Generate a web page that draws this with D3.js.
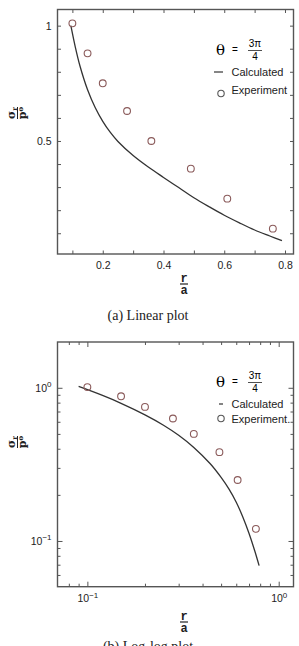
<!DOCTYPE html>
<html>
<head>
<meta charset="utf-8">
<script src="https://cdn.jsdelivr.net/npm/d3@7"></script>
<style>
  body { margin: 0; background: #fff; }
  svg { display: block; }
  .tick text { font-family: "Liberation Sans", Arial, sans-serif; font-size: 10.5px; fill: #222; }
  .domain { display: none; }
  .tick line { stroke: #555; stroke-width: 1; }
</style>
</head>
<body>
<script>
const width = 299;
const height = 646;

// experiment points (same in both plots)
const expX = [0.1, 0.15, 0.2, 0.28, 0.36, 0.49, 0.61, 0.76];
const expY = [1.01, 0.88, 0.75, 0.63, 0.5, 0.38, 0.25, 0.12];

// calculated curve
const calcLinX = [0.095, 0.11, 0.125, 0.15, 0.175, 0.2, 0.225, 0.25, 0.3, 0.35, 0.4, 0.45, 0.5, 0.55, 0.6, 0.65, 0.7, 0.75, 0.79];
const calcLinY = [1.0, 0.905, 0.825, 0.722, 0.645, 0.585, 0.537, 0.498, 0.437, 0.387, 0.342, 0.298, 0.254, 0.215, 0.178, 0.145, 0.114, 0.088, 0.068];

// calculated curve
const calcLogX = [0.09, 0.12, 0.15, 0.2, 0.25, 0.3, 0.36, 0.44, 0.5, 0.55, 0.6, 0.65, 0.7, 0.75, 0.79];
const calcLogY = [1.02, 0.891, 0.792, 0.666, 0.57, 0.49, 0.408, 0.318, 0.26, 0.218, 0.179, 0.143, 0.112, 0.086, 0.069];

// ticks
const linXMajor = [0.2, 0.4, 0.6, 0.8];
const linXMinor = [0.1, 0.3, 0.5, 0.7];
const linYTicks = [0.1, 0.2, 0.3, 0.4, 0.5, 0.6, 0.7, 0.8, 0.9, 1.0];
const linYLabels = ["0.5", "1"];
const logXMajor = [0.1, 1];
const logXMinor = [0.08, 0.09, 0.2, 0.3, 0.4, 0.5, 0.6, 0.7, 0.8, 0.9];
const logYMajor = [0.1, 1];
const logYMinor = [0.06, 0.07, 0.08, 0.09, 0.2, 0.3, 0.4, 0.5, 0.6, 0.7, 0.8, 0.9];

const svg = d3.select("body").append("svg")
    .attr("width", width)
    .attr("height", height);

const left = 57.5, right = 293.5;
const sans = "Liberation Sans, Arial, sans-serif";

function frame(top, bottom) {
    svg.append("rect")
        .attr("x", left).attr("y", top)
        .attr("width", right - left).attr("height", bottom - top)
        .attr("fill", "none").attr("stroke", "#555").attr("stroke-width", 1.4);
}

// ticks on all four sides, pointing inward; labels on bottom and left only
function axes(x, y, top, bottom, xTicks, yTicks, size, xFmt, yFmt) {
    const bx = svg.append("g").attr("transform", `translate(0,${bottom})`)
        .call(d3.axisBottom(x).tickValues(xTicks).tickSize(-size).tickPadding(8)
            .tickFormat(xFmt || (() => "")));
    svg.append("g").attr("transform", `translate(0,${top})`)
        .call(d3.axisTop(x).tickValues(xTicks).tickSize(-size).tickFormat(() => ""));
    const ly = svg.append("g").attr("transform", `translate(${left},0)`)
        .call(d3.axisLeft(y).tickValues(yTicks).tickSize(-size).tickPadding(6)
            .tickFormat(yFmt || (() => "")));
    svg.append("g").attr("transform", `translate(${right},0)`)
        .call(d3.axisRight(y).tickValues(yTicks).tickSize(-size).tickFormat(() => ""));
    return [bx, ly];
}

function plotData(x, y, cx, cy) {
    const line = d3.line().x((d, i) => x(cx[i])).y((d, i) => y(cy[i])).curve(d3.curveCatmullRom);
    svg.append("path").datum(cx)
        .attr("d", line)
        .attr("fill", "none").attr("stroke", "#333").attr("stroke-width", 1.3);
    svg.append("g").selectAll("circle")
        .data(expX)
        .join("circle")
        .attr("cx", d => x(d))
        .attr("cy", (d, i) => y(expY[i]))
        .attr("r", 3.4)
        .attr("fill", "none").attr("stroke", "#8a5a5a").attr("stroke-width", 1.1);
}

function legend(top, dashLen) {
    const g = svg.append("g").attr("transform", `translate(0,${top})`);
    g.append("text").attr("x", 216).attr("y", 5)
        .attr("font-family", "DejaVu Serif, serif").attr("font-size", 15).text("θ");
    g.append("text").attr("x", 232).attr("y", 3)
        .attr("font-family", sans).attr("font-size", 10).text("=");
    g.append("text").attr("x", 255).attr("y", -3).attr("text-anchor", "middle")
        .attr("font-family", sans).attr("font-size", 10).text("3π");
    g.append("line").attr("x1", 248).attr("x2", 262).attr("y1", 0.5).attr("y2", 0.5)
        .attr("stroke", "#222").attr("stroke-width", 0.8);
    g.append("text").attr("x", 255).attr("y", 10).attr("text-anchor", "middle")
        .attr("font-family", sans).attr("font-size", 10).text("4");
    g.append("line").attr("x1", 223 - dashLen).attr("x2", 223).attr("y1", 22).attr("y2", 22)
        .attr("stroke", "#333").attr("stroke-width", 1.2);
    g.append("text").attr("x", 231.5).attr("y", 26)
        .attr("font-family", sans).attr("font-size", 11).attr("fill", "#222").text("Calculated");
    return g;
}

function yLabel(cx, cy) {
    const g = svg.append("g").attr("transform", `translate(${cx},${cy}) rotate(-90)`)
        .attr("font-family", "DejaVu Serif, serif").attr("font-weight", "bold").attr("fill", "#222");
    const n = g.append("text").attr("x", 0).attr("y", -2.5).attr("text-anchor", "middle").attr("font-size", 11);
    n.append("tspan").text("σ");
    n.append("tspan").attr("font-size", 7).attr("dy", 1.5).text("r");
    g.append("line").attr("x1", -6).attr("x2", 6).attr("y1", 0).attr("y2", 0)
        .attr("stroke", "#222").attr("stroke-width", 1);
    const d = g.append("text").attr("x", 0).attr("y", 8.5).attr("text-anchor", "middle").attr("font-size", 11);
    d.append("tspan").text("p");
    d.append("tspan").attr("font-size", 7).attr("dy", -3).text("o");
}

function xLabel(cx, cy) {
    const g = svg.append("g").attr("font-family", "Liberation Mono, monospace")
        .attr("font-weight", "bold").attr("font-size", 12).attr("fill", "#222");
    g.append("text").attr("x", cx).attr("y", cy - 2.5).attr("text-anchor", "middle").text("r");
    g.append("line").attr("x1", cx - 4).attr("x2", cx + 4).attr("y1", cy).attr("y2", cy)
        .attr("stroke", "#222").attr("stroke-width", 1.2);
    g.append("text").attr("x", cx).attr("y", cy + 10).attr("text-anchor", "middle").text("a");
}

function caption(text, y) {
    svg.append("text").attr("x", 148).attr("y", y).attr("text-anchor", "middle")
        .attr("font-family", "Liberation Serif, serif").attr("font-size", 14).attr("fill", "#222")
        .text(text);
}

function powLabels(sel) {
    sel.selectAll(".tick text").each(function (d) {
        const t = d3.select(this);
        if (t.text() === "") return;
        const e = Math.round(Math.log10(d));
        t.text("10");
        t.append("tspan").attr("dy", "-0.55em").attr("font-size", 8).text(e === 0 ? "0" : "−1");
    });
}

// ---- (a) linear plot
const top1 = 9.5, bottom1 = 254;
const x1 = d3.scaleLinear().domain([0.051, 0.828]).range([left, right]);
const y1 = d3.scaleLinear().domain([0.01, 1.07]).range([bottom1, top1]);

axes(x1, y1, top1, bottom1, linXMajor, linYTicks, 3.5, d3.format(".1f"),
    d => { const s = d3.format("~g")(+d.toFixed(1)); return linYLabels.includes(s) ? s : ""; });
axes(x1, y1, top1, bottom1, linXMinor, [], 3.5, null, null);
plotData(x1, y1, calcLinX, calcLinY);
frame(top1, bottom1);
const leg1 = legend(50, 9);
leg1.append("circle").attr("cx", 221).attr("cy", 43.5).attr("r", 3.2)
    .attr("fill", "none").attr("stroke", "#555").attr("stroke-width", 1.1);
leg1.append("text").attr("x", 231.5).attr("y", 43.5)
    .attr("font-family", sans).attr("font-size", 11).attr("fill", "#222").text("Experiment");
yLabel(17.5, 113);
xLabel(184, 284);
caption("(a) Linear plot", 320);

// ---- (b) log-log plot
const top2 = 342, bottom2 = 586.7;
const x2 = d3.scaleLog().domain([0.0698, 1.195]).range([left, right]);
const y2 = d3.scaleLog().domain([0.0503, 1.99]).range([bottom2, top2]);

const [bx2, ly2] = axes(x2, y2, top2, bottom2, logXMajor, logYMajor, 5, d => "1", d => "1");
axes(x2, y2, top2, bottom2, logXMinor, logYMinor, 3, null, null);
powLabels(bx2);
powLabels(ly2);
plotData(x2, y2, calcLogX, calcLogY);
frame(top2, bottom2);
const leg2 = legend(382, 4);
leg2.append("circle").attr("cx", 221).attr("cy", 36.5).attr("r", 3.2)
    .attr("fill", "none").attr("stroke", "#555").attr("stroke-width", 1.1);
leg2.append("text").attr("x", 231.5).attr("y", 40.5)
    .attr("font-family", sans).attr("font-size", 11).attr("fill", "#222").text("Experiment.");
yLabel(17.5, 442);
xLabel(184, 622);
caption("(b) Log-log plot", 651);
</script>
</body>
</html>
